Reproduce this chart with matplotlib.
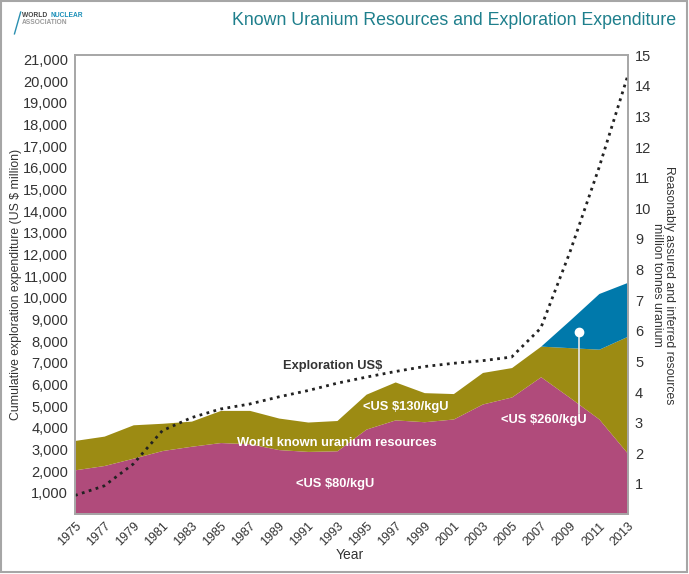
import numpy as np
import matplotlib as mpl
mpl.use('Agg')
import matplotlib.pyplot as plt
from matplotlib.patches import Rectangle
from matplotlib.lines import Line2D
from matplotlib.transforms import ScaledTranslation

mpl.rcParams['font.family'] = ['Liberation Sans', 'DejaVu Sans']

#==============================================================================
# Data
years = [1975, 1977, 1979, 1981, 1983, 1985, 1987, 1989, 1991, 1993,
         1995, 1997, 1999, 2001, 2003, 2005, 2007, 2009, 2011, 2013]

# cumulative exploration expenditure, US$ million (left axis)
exploration = [880, 1320, 2330, 3870, 4470, 4870, 5100, 5430, 5720, 6060,
               6340, 6600, 6830, 6980, 7100, 7270, 8600, 12100, 16000, 20300]

# top of each resource band, million tonnes U (right axis)
res_80 = [1.46, 1.60, 1.84, 2.09, 2.23, 2.35, 2.31, 2.12, 2.06, 2.08,
          2.79, 3.09, 3.03, 3.12, 3.61, 3.84, 4.50, 3.82, 3.12, 1.98]
res_130 = [2.42, 2.56, 2.93, 2.98, 3.05, 3.40, 3.40, 3.15, 3.02, 3.07,
           3.93, 4.33, 3.98, 3.95, 4.64, 4.80, 5.50, 5.45, 5.40, 5.83]
years_260 = [2007, 2009, 2011, 2013]
res_260 = [5.50, 6.35, 7.22, 7.59]

left_ticks = range(1000, 22000, 1000)
right_ticks = range(1, 16)
#==============================================================================

pink = '#B04B7B'
olive = '#9C8B13'
blue = '#0079AB'
teal = '#1E7F8C'
grey = '#a6a6a6'
txt = '#333333'

fig = plt.figure(figsize=(6.89, 5.74), dpi=100)
ax = fig.add_axes([0.1089, 0.1037, 0.8026, 0.7999])
ax2 = ax.twinx()
ax.set_zorder(ax2.get_zorder() + 1)
ax.patch.set_visible(False)

# resource bands (right axis)
ax2.fill_between(years, 0, res_80, color=pink, lw=0)
ax2.fill_between(years, res_80, res_130, color=olive, lw=0)
r130_2007 = [res_130[years.index(y)] for y in years_260]
ax2.fill_between(years_260, r130_2007, res_260, color=blue, lw=0)
ax2.set_ylim(0, 15)
ax2.set_yticks(right_ticks)
ax2.set_ylabel('Reasonably assured and inferred resources\nmillion tonnes uranium',
               rotation=-90, fontsize=8.8, color=txt, linespacing=1.05, va='center')
ax2.yaxis.set_label_coords(1.063, 0.5)

# exploration line (left axis)
ax.plot(years, exploration, color='#222222', lw=2, ls=(0, (1, 1.6)))
ax.set_xlim(1975, 2013)
ax.set_ylim(0, 21200)
ax.set_yticks(left_ticks)
ax.set_yticklabels(['{:,}'.format(v) for v in left_ticks])
ax.set_xticks(years)
ax.set_xticklabels([str(y) for y in years], rotation=45, ha='right', va='top',
                   rotation_mode='anchor')
shift = ScaledTranslation(6 / 100, 0, fig.dpi_scale_trans)
for lbl in ax.get_xticklabels():
    lbl.set_transform(lbl.get_transform() + shift)
ax.set_ylabel('Cumulative exploration expenditure (US $ million)', fontsize=8.8,
              color=txt, va='center')
ax.yaxis.set_label_coords(-0.107, 0.5)
ax.set_xlabel('Year', fontsize=10, color=txt, va='center')
ax.xaxis.set_label_coords(0.497, -0.088)

for a in (ax, ax2):
    for s in a.spines.values():
        s.set_color(grey)
        s.set_linewidth(1.2)
    a.tick_params(length=0, colors=txt, labelsize=10.5, pad=5)
ax.tick_params(axis='x', labelsize=9, pad=4)

# labels inside the plot
bold = dict(fontsize=9.3, fontweight='bold', ha='center', va='center')
ax.text(1992.7, 6860, 'Exploration US$', color=txt, **bold)
ax2.text(1997.7, 3.52, '<US $130/kgU', color='white', **bold)
ax2.text(1993.0, 2.35, 'World known uranium resources', color='white', **bold)
ax2.text(1992.9, 1.01, '<US $80/kgU', color='white', **bold)
ax2.text(2007.2, 3.10, '<US $260/kgU', color='white', **bold)
ax2.plot([2009.65, 2009.65], [3.3, 5.97], color='#e8e8e8', lw=1.2)
ax2.plot([2009.65], [5.97], 'o', color='white', ms=6)

# title and logo
fig.text(0.981, 0.965, 'Known Uranium Resources and Exploration Expenditure',
         color=teal, fontsize=12.8, ha='right', va='center')
fig.add_artist(Line2D([0.021, 0.030], [0.941, 0.979], color='#2a8fb0', lw=1))
w = fig.text(0.032, 0.973, 'WORLD', color='#444444', fontsize=4.8,
             fontweight='bold', va='center')
fig.canvas.draw()
bb = w.get_window_extent().transformed(fig.transFigure.inverted())
fig.text(bb.x1 + 0.004, 0.973, 'NUCLEAR', color='#1a8fb8', fontsize=4.8,
         fontweight='bold', va='center')
fig.text(0.032, 0.961, 'ASSOCIATION', color='#9a9a9a', fontsize=4.8,
         fontweight='bold', va='center')

# outer frame
fig.add_artist(Rectangle((0.002, 0.003), 0.995, 0.995, transform=fig.transFigure,
                         fill=False, edgecolor=grey, lw=1.5))

plt.savefig('out.png', dpi=100)
